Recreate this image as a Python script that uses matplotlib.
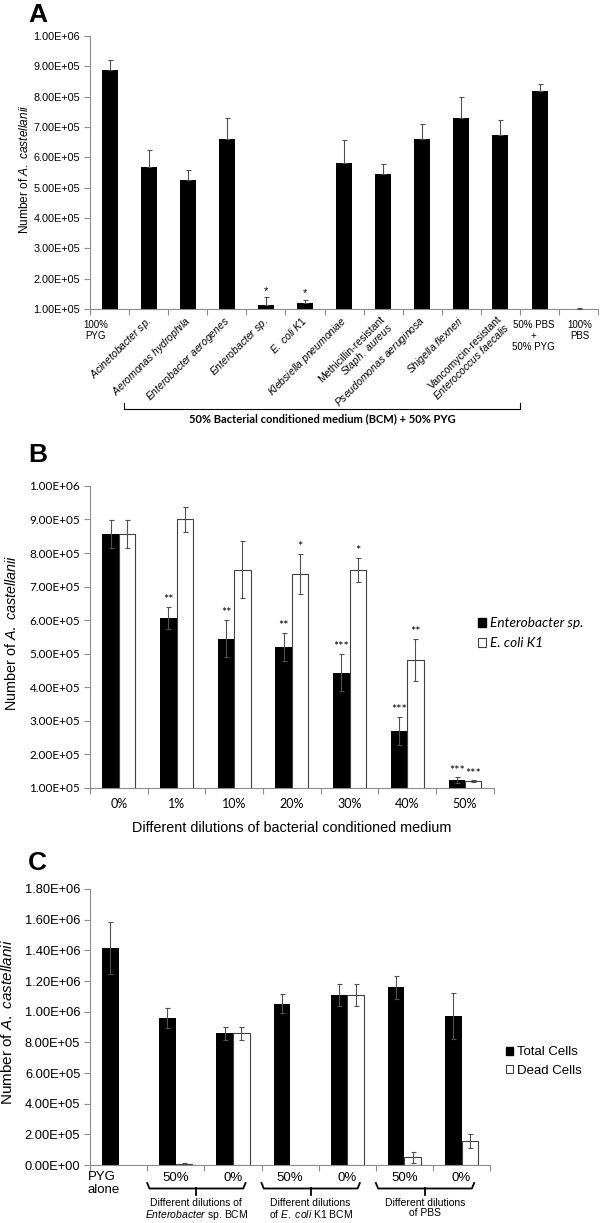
import numpy as np
import matplotlib
matplotlib.use('Agg')
import matplotlib.pyplot as plt
from matplotlib.patches import Patch
from matplotlib.ticker import FuncFormatter

plt.rcParams['font.family'] = ['Liberation Sans', 'DejaVu Sans']
plt.rcParams['mathtext.fontset'] = 'custom'
plt.rcParams['mathtext.it'] = 'Liberation Sans:italic'
plt.rcParams['mathtext.rm'] = 'Liberation Sans'

# ---- panel A : 50% BCM + 50% PYG
a_labels = ['100%\nPYG', r'$\it{Acinetobacter\ sp.}$', r'$\it{Aeromonas\ hydrophila}$',
            r'$\it{Enterobacter\ aerogenes}$', r'$\it{Enterobacter\ sp.}$', r'$\it{E.\ coli\ K1}$',
            r'$\it{Klebsiella\ pneumoniae}$', 'Methicillin-resistant\n' + r'$\it{Staph.\ aureus}$',
            r'$\it{Pseudomonas\ aeruginosa}$', r'$\it{Shigella\ flexneri}$',
            'Vancomycin-resistant\n' + r'$\it{Enterococcus\ faecalis}$', '50% PBS\n+\n50% PYG', '100%\nPBS']
a_values = [8.87e5, 5.69e5, 5.24e5, 6.62e5, 1.14e5, 1.20e5, 5.80e5, 5.44e5, 6.62e5, 7.30e5, 6.74e5, 8.19e5, 1.01e5]
a_errors = [0.35e5, 0.57e5, 0.36e5, 0.69e5, 0.25e5, 0.10e5, 0.77e5, 0.33e5, 0.49e5, 0.69e5, 0.48e5, 0.24e5, 0.01e5]
a_stars = ['', '', '', '', '*', '*', '', '', '', '', '', '', '']
a_bracket = '50% Bacterial conditioned medium (BCM) + 50% PYG'

# ---- panel B : dilutions of BCM
b_labels = ['0%', '1%', '10%', '20%', '30%', '40%', '50%']
b_entero = [8.56e5, 6.06e5, 5.45e5, 5.20e5, 4.44e5, 2.70e5, 1.23e5]
b_entero_err = [0.42e5, 0.33e5, 0.55e5, 0.42e5, 0.55e5, 0.41e5, 0.09e5]
b_ecoli = [8.56e5, 9.00e5, 7.50e5, 7.38e5, 7.50e5, 4.82e5, 1.20e5]
b_ecoli_err = [0.42e5, 0.36e5, 0.85e5, 0.59e5, 0.35e5, 0.62e5, 0.03e5]
b_entero_stars = ['', '**', '**', '**', '***', '***', '***']
b_ecoli_stars = ['', '', '', '*', '*', '**', '***']
b_series = ['Enterobacter sp.', 'E. coli K1']

# ---- panel C : total vs dead cells
c_labels = ['PYG\nalone', '50%', '0%', '50%', '0%', '50%', '0%']
c_total = [1.417e6, 0.959e6, 0.859e6, 1.052e6, 1.109e6, 1.159e6, 0.970e6]
c_total_err = [0.170e6, 0.063e6, 0.043e6, 0.063e6, 0.070e6, 0.076e6, 0.150e6]
c_dead = [np.nan, 0.005e6, 0.859e6, np.nan, 1.109e6, 0.050e6, 0.157e6]
c_dead_err = [np.nan, 0.010e6, 0.043e6, np.nan, 0.070e6, 0.036e6, 0.043e6]
c_groups = ['Different dilutions of\n' + r'$\it{Enterobacter}$' + ' sp. BCM',
            'Different dilutions\nof ' + r'$\it{E.\ coli}$' + ' K1 BCM',
            'Different dilutions\nof PBS']
c_series = ['Total Cells', 'Dead Cells']

AX_GREY = '#8c8c8c'
ERR_GREY = '#505050'
YLAB = 'Number of ' + r'$\it{A.\ castellanii}$'


def style_axes(ax, n, ymin, ymax, step, tick_fs, tick_font):
    for s in ['top', 'right']:
        ax.spines[s].set_visible(False)
    for s in ['left', 'bottom']:
        ax.spines[s].set_color(AX_GREY)
        ax.spines[s].set_linewidth(0.8)
    ax.set_xlim(-0.5, n - 0.5)
    ax.set_ylim(ymin, ymax)
    ax.set_yticks(np.arange(ymin, ymax + step / 2, step))
    ax.yaxis.set_major_formatter(FuncFormatter(lambda v, p: '{:.2E}'.format(v)))
    ax.set_xticks(np.arange(n))
    ax.set_xticks(np.arange(n + 1) - 0.5, minor=True)
    ax.tick_params(axis='x', which='major', length=0)
    ax.tick_params(axis='x', which='minor', length=4, color=AX_GREY, width=0.8)
    ax.tick_params(axis='y', length=4, color=AX_GREY, width=0.8, labelsize=tick_fs, pad=3)
    for t in ax.get_yticklabels():
        t.set_family(tick_font)


fig = plt.figure(figsize=(6, 12.23), dpi=100)

# ================= A
axA = fig.add_axes([0.15, 0.7473, 0.847, 0.2232])
style_axes(axA, len(a_values), 1e5, 1e6, 1e5, 7.8, 'Liberation Sans')
xa = np.arange(len(a_values))
axA.bar(xa, a_values, width=0.41, color='black', zorder=2)
axA.errorbar(xa, a_values, yerr=[np.zeros(len(xa)), a_errors], fmt='none', ecolor=ERR_GREY,
             elinewidth=0.8, capsize=1.8, capthick=0.8, zorder=3)
for i, s in enumerate(a_stars):
    if s:
        axA.annotate(s, (i, a_values[i] + a_errors[i]), xytext=(0, 1), textcoords='offset points',
                     ha='center', va='bottom', fontsize=8)
axA.set_xticklabels([])
trA = axA.get_xaxis_transform()
flat_shift = {0: -0.36, 11: -0.16, 12: 0.02}
for i, lab in enumerate(a_labels):
    if i in flat_shift:
        axA.text(i + flat_shift[i], -0.04, lab, transform=trA, ha='center', va='top',
                 fontsize=7, linespacing=1.1)
    else:
        axA.annotate(lab, xy=(i, 0), xycoords=trA, xytext=(-4, -5), textcoords='offset pixels',
                     rotation=45, ha='right', va='top', rotation_mode='anchor',
                     multialignment='right', fontsize=7.5, linespacing=1.0)
axA.plot([0.37, 0.37, 10.49, 10.49], [-0.344, -0.366, -0.366, -0.344], transform=trA,
         color='black', lw=0.8, clip_on=False)
axA.text(5.43, -0.40, a_bracket, transform=trA, ha='center', va='center',
         fontsize=8, family='Lato', weight='bold')
axA.text(-0.128, 0.513, YLAB, transform=axA.transAxes, rotation=90, ha='center', va='center', fontsize=8.6)

# ================= B
axB = fig.add_axes([0.15, 0.3557, 0.673, 0.247])
style_axes(axB, len(b_labels), 1e5, 1e6, 1e5, 8.5, 'Lato')
xb = np.arange(len(b_labels))
w = 0.285
axB.bar(xb - w / 2, b_entero, w, color='black', zorder=2)
axB.bar(xb + w / 2, b_ecoli, w, color='white', edgecolor='#404040', linewidth=0.8, zorder=2)
axB.errorbar(xb - w / 2, b_entero, yerr=b_entero_err, fmt='none', ecolor=ERR_GREY,
             elinewidth=0.8, capsize=1.8, capthick=0.8, zorder=3)
axB.errorbar(xb + w / 2, b_ecoli, yerr=b_ecoli_err, fmt='none', ecolor=ERR_GREY,
             elinewidth=0.8, capsize=1.8, capthick=0.8, zorder=3)
for i in range(len(xb)):
    if b_entero_stars[i]:
        axB.annotate(b_entero_stars[i], (i - w / 2, b_entero[i] + b_entero_err[i]), xytext=(0, 0.5),
                     textcoords='offset points', ha='center', va='bottom', fontsize=9, family='Lato')
    if b_ecoli_stars[i]:
        axB.annotate(b_ecoli_stars[i], (i + w / 2, b_ecoli[i] + b_ecoli_err[i]), xytext=(0, 0.5),
                     textcoords='offset points', ha='center', va='bottom', fontsize=9, family='Lato')
axB.set_xticklabels(b_labels, fontsize=9, family='Lato')
axB.tick_params(axis='x', which='major', pad=7)
axB.text(0.5, -0.132, 'Different dilutions of bacterial conditioned medium', transform=axB.transAxes,
         ha='center', va='center', fontsize=10.4)
axB.text(-0.194, 0.513, YLAB, transform=axB.transAxes, rotation=90, ha='center', va='center', fontsize=10.4)
axB.legend([Patch(fc='black', ec='black'), Patch(fc='white', ec='#404040', lw=0.8)], b_series,
           loc='center left', bbox_to_anchor=(0.962, 0.512), frameon=False,
           prop=dict(family='Lato', style='italic', size=9.8), handlelength=0.55, handleheight=0.55,
           handletextpad=0.3, labelspacing=0.6, borderaxespad=0, borderpad=0)

# ================= C
axC = fig.add_axes([0.15, 0.0474, 0.667, 0.2257])
style_axes(axC, len(c_labels), 0, 1.8e6, 2e5, 9.3, 'Liberation Sans')
xc = np.arange(len(c_labels))
wc = 0.29
axC.bar(xc - wc / 2, c_total, wc, color='black', zorder=2)
axC.bar(xc + wc / 2, c_dead, wc, color='white', edgecolor='#404040', linewidth=0.8, zorder=2)
axC.errorbar(xc - wc / 2, c_total, yerr=c_total_err, fmt='none', ecolor=ERR_GREY,
             elinewidth=0.8, capsize=1.8, capthick=0.8, zorder=3)
axC.errorbar(xc + wc / 2, c_dead, yerr=c_dead_err, fmt='none', ecolor=ERR_GREY,
             elinewidth=0.8, capsize=1.8, capthick=0.8, zorder=3)
axC.set_xticklabels([])
trC = axC.get_xaxis_transform()
for i, lab in enumerate(c_labels):
    if i == 0:
        axC.text(-0.54, -0.022, lab, transform=trC, ha='left', va='top', fontsize=9.5, linespacing=1.15)
    else:
        axC.text(i, -0.025, lab, transform=trC, ha='center', va='top', fontsize=9.5)
for g, txt in enumerate(c_groups):
    x0 = 2 * g + 0.5
    x1 = 2 * g + 2.22
    xm = (x0 + x1) / 2
    axC.plot([x0, x0 + 0.04, x1 - 0.04, x1], [-0.065, -0.085, -0.085, -0.065], transform=trC,
             color='black', lw=1.3, clip_on=False)
    axC.plot([xm, xm], [-0.085, -0.108], transform=trC, color='black', lw=1.3, clip_on=False)
    axC.text(xm, -0.118, txt, transform=trC, ha='center', va='top', fontsize=7.5, linespacing=1.0)
axC.text(-0.205, 0.518, YLAB, transform=axC.transAxes, rotation=90, ha='center', va='center', fontsize=11)
axC.legend([Patch(fc='black', ec='black'), Patch(fc='white', ec='#404040', lw=0.8)], c_series,
           loc='center left', bbox_to_anchor=(1.04, 0.375), frameon=False,
           prop=dict(size=9.5), handlelength=0.55, handleheight=0.55,
           handletextpad=0.25, labelspacing=0.5, borderaxespad=0, borderpad=0)

# panel letters
fig.text(28 / 600, 1 - 3 / 1223, 'A', fontsize=19, weight='bold', va='top', ha='left')
fig.text(28 / 600, 1 - 443 / 1223, 'B', fontsize=19, weight='bold', va='top', ha='left')
fig.text(28 / 600, 1 - 851 / 1223, 'C', fontsize=19, weight='bold', va='top', ha='left')

fig.savefig('out.png', dpi=100)
